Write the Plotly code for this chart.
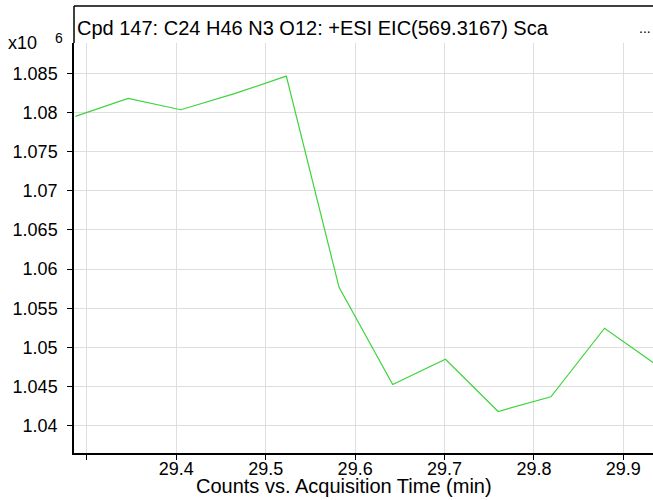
import plotly.graph_objects as go

# EIC trace, counts in units of 10^6
time_min = [29.287, 29.346, 29.405, 29.465, 29.523, 29.582,
            29.642, 29.701, 29.760, 29.819, 29.879, 29.938]
counts_e6 = [1.0795, 1.08179, 1.08034, 1.08239, 1.08463, 1.05767,
             1.04526, 1.04849, 1.04182, 1.0437, 1.05245, 1.0477]

x_ticks = [29.3, 29.4, 29.5, 29.6, 29.7, 29.8, 29.9]
x_labels = ["", "29.4", "29.5", "29.6", "29.7", "29.8", "29.9"]
y_ticks = [1.04, 1.045, 1.05, 1.055, 1.06, 1.065, 1.07, 1.075, 1.08, 1.085]
y_labels = ["1.04", "1.045", "1.05", "1.055", "1.06", "1.065",
            "1.07", "1.075", "1.08", "1.085"]

title_text = "Cpd 147: C24 H46 N3 O12: +ESI EIC(569.3167) Sca"
font = "Liberation Sans, Arial, sans-serif"

fig = go.Figure()
fig.add_trace(go.Scatter(
    x=time_min, y=counts_e6, mode="lines",
    line=dict(color="#3dd43d", width=1.2),
    hoverinfo="x+y", showlegend=False,
))

fig.update_layout(
    width=653, height=500,
    margin=dict(l=74, r=0, t=43, b=47),
    paper_bgcolor="white", plot_bgcolor="white",
    font=dict(family=font, size=18, color="black"),
)

fig.update_xaxes(
    range=[29.2855, 29.9332],
    tickvals=x_ticks, ticktext=x_labels,
    showgrid=True, gridcolor="#dedede", gridwidth=1,
    showline=True, linecolor="black", linewidth=1.5,
    ticks="outside", ticklen=5, tickcolor="black",
    ticklabelstandoff=-6,
    zeroline=False,
)
fig.update_yaxes(
    range=[1.03652, 1.08886],
    tickvals=y_ticks, ticktext=y_labels,
    showgrid=True, gridcolor="#dedede", gridwidth=1,
    showline=True, linecolor="black", linewidth=1.5,
    ticks="outside", ticklen=5, tickcolor="black",
    ticklabelstandoff=6,
    zeroline=False,
)

# title box border above the plot area
fig.add_shape(type="line", xref="paper", yref="paper",
              x0=0, x1=1, y0=1.0902, y1=1.0902,
              line=dict(color="black", width=1.5))
fig.add_shape(type="line", xref="paper", yref="paper",
              x0=0, x1=0, y0=1.0, y1=1.0902,
              line=dict(color="black", width=1.5))

fig.add_annotation(text=title_text, xref="paper", yref="paper",
                   x=0.002, y=1.0366, xanchor="left", yanchor="middle",
                   showarrow=False, font=dict(size=20))
fig.add_annotation(text="...", xref="paper", yref="paper",
                   x=0.986, y=1.0366, xanchor="center", yanchor="middle",
                   showarrow=False, font=dict(size=14))
fig.add_annotation(text="x10", xref="paper", yref="paper",
                   x=-0.0898, y=1.0, xanchor="center", yanchor="middle",
                   showarrow=False, font=dict(size=18))
fig.add_annotation(text="6", xref="paper", yref="paper",
                   x=-0.0259, y=1.0122, xanchor="center", yanchor="middle",
                   showarrow=False, font=dict(size=14))
fig.add_annotation(text="Counts vs. Acquisition Time (min)",
                   xref="paper", yref="paper",
                   x=0.4655, y=-0.0805, xanchor="center", yanchor="middle",
                   showarrow=False, font=dict(size=20))

fig.write_html("out.html", config={"displayModeBar": False},
               post_script="document.body.style.margin='0';")
